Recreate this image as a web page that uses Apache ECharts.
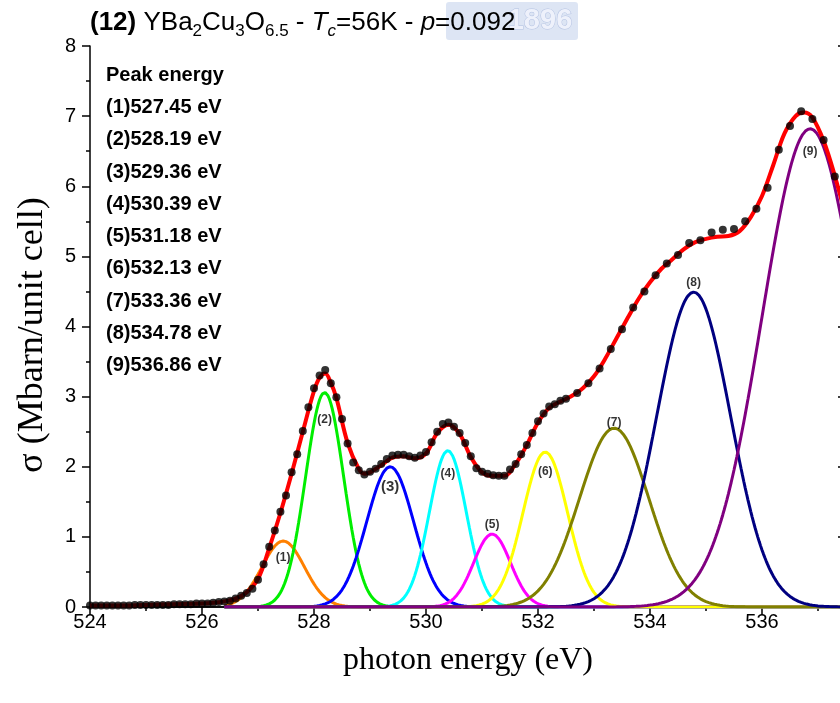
<!DOCTYPE html>
<html>
<head>
<meta charset="utf-8">
<script src="https://cdn.jsdelivr.net/npm/echarts@6/dist/echarts.min.js"></script>
<style>
  html, body { margin: 0; padding: 0; overflow: hidden; background: #fff; }
  #chart { width: 850px; height: 703px; }
</style>
</head>
<body>
<div id="chart"></div>
<script>
// Measured O K-edge spectrum: photon energy (eV) and sigma (Mbarn/unit cell)
const energy = [
  524.0, 524.1, 524.2, 524.3, 524.4, 524.5, 524.6, 524.7, 524.8, 524.9,
  525.0, 525.1, 525.2, 525.3, 525.4, 525.5, 525.6, 525.7, 525.8, 525.9,
  526.0, 526.1, 526.2, 526.3, 526.4, 526.5, 526.6, 526.7, 526.8, 526.9,
  527.0, 527.1, 527.2, 527.3, 527.4, 527.5, 527.6, 527.7, 527.8, 527.9,
  528.0, 528.1, 528.2, 528.3, 528.4, 528.5, 528.6, 528.7, 528.8, 528.9,
  529.0, 529.1, 529.2, 529.3, 529.4, 529.5, 529.6, 529.7, 529.8, 529.9,
  530.0, 530.1, 530.2, 530.3, 530.4, 530.5, 530.6, 530.7, 530.8, 530.9,
  531.0, 531.1, 531.2, 531.3, 531.4, 531.5, 531.6, 531.7, 531.8, 531.9,
  532.0, 532.1, 532.2, 532.3, 532.4, 532.5, 532.7, 532.9, 533.1, 533.3,
  533.5, 533.7, 533.9, 534.1, 534.3, 534.5, 534.7, 534.9, 535.1, 535.3,
  535.5, 535.7, 535.9, 536.1, 536.3, 536.5, 536.7, 536.9, 537.1, 537.3
];
const sigmaMeasured = [
  0.02, 0.02, 0.02, 0.02, 0.02, 0.02, 0.02, 0.02, 0.03, 0.03,
  0.03, 0.03, 0.03, 0.03, 0.03, 0.04, 0.04, 0.04, 0.04, 0.05,
  0.05, 0.05, 0.06, 0.07, 0.08, 0.09, 0.12, 0.16, 0.20, 0.26,
  0.39, 0.61, 0.86, 1.09, 1.36, 1.59, 1.92, 2.18, 2.51, 2.85,
  3.12, 3.30, 3.38, 3.19, 2.99, 2.68, 2.33, 2.06, 1.95, 1.89,
  1.93, 1.97, 2.04, 2.11, 2.16, 2.17, 2.17, 2.15, 2.13, 2.16,
  2.21, 2.35, 2.50, 2.61, 2.63, 2.57, 2.48, 2.34, 2.15, 1.98,
  1.93, 1.90, 1.88, 1.87, 1.87, 1.96, 2.04, 2.18, 2.31, 2.48,
  2.65, 2.76, 2.86, 2.89, 2.94, 2.97, 3.05, 3.19, 3.40, 3.68,
  3.96, 4.27, 4.50, 4.73, 4.90, 5.02, 5.19, 5.23, 5.34, 5.38,
  5.39, 5.50, 5.68, 5.98, 6.52, 6.86, 7.07, 6.96, 6.66, 6.14
];

// Total fit curve
const fitEnergy = [
  524.0, 524.5, 525.0, 525.5, 526.0, 526.2, 526.4, 526.6, 526.8, 527.0,
  527.2, 527.4, 527.6, 527.8, 528.0, 528.1, 528.2, 528.3, 528.4, 528.6,
  528.8, 528.9, 529.0, 529.2, 529.4, 529.6, 529.8, 530.0, 530.2, 530.4,
  530.6, 530.8, 531.0, 531.2, 531.4, 531.6, 531.8, 532.0, 532.2, 532.4,
  532.6, 532.8, 533.0, 533.2, 533.4, 533.6, 533.8, 534.0, 534.2, 534.4,
  534.6, 534.8, 535.0, 535.2, 535.4, 535.6, 535.8, 536.0, 536.2, 536.4,
  536.6, 536.75, 536.9, 537.1, 537.3, 537.5
];
const sigmaFit = [
  0.02, 0.02, 0.03, 0.04, 0.05, 0.06, 0.08, 0.12, 0.21, 0.40,
  0.84, 1.34, 1.90, 2.50, 3.08, 3.27, 3.33, 3.20, 2.98, 2.34,
  1.97, 1.90, 1.92, 2.02, 2.13, 2.15, 2.12, 2.19, 2.48, 2.60,
  2.47, 2.14, 1.92, 1.87, 1.87, 2.04, 2.31, 2.63, 2.84, 2.93,
  3.01, 3.12, 3.29, 3.54, 3.83, 4.12, 4.40, 4.63, 4.82, 4.96,
  5.10, 5.20, 5.25, 5.28, 5.29, 5.36, 5.56, 5.86, 6.30, 6.75,
  7.00, 7.05, 6.98, 6.65, 6.15, 5.55
];

// Gaussian components: peak energy (eV), height, width (eV)
const peakCenter = [527.45, 528.19, 529.36, 530.39, 531.18, 532.13, 533.36, 534.78, 536.86];
const peakHeight = [0.94, 3.06, 2.00, 2.23, 1.04, 2.21, 2.55, 4.49, 6.82];
const peakWidth  = [0.38, 0.34, 0.42, 0.33, 0.33, 0.40, 0.62, 0.66, 0.86];
const peakColor  = ['#FF8000', '#00EE00', '#0000FF', '#00FFFF', '#FF00FF', '#FFFF00', '#808000', '#000080', '#800080'];
const peakTagY   = [0.70, 2.67, 1.72, 1.90, 1.17, 1.93, 2.63, 4.62, 6.50];

const xTicks = [524, 526, 528, 530, 532, 534, 536];

const componentStart = 526.4;
const componentEnd = 537.5;

function componentCurve(i) {
  const pts = [];
  for (let k = 0; ; k++) {
    const x = componentStart + k * 0.025;
    if (x > componentEnd + 1e-9) break;
    const d = x - peakCenter[i];
    pts.push([x, peakHeight[i] * Math.exp(-d * d / (2 * peakWidth[i] * peakWidth[i]))]);
  }
  return pts;
}

const sansFont = 'Arial, "Liberation Sans", Helvetica, sans-serif';
const serifFont = '"Times New Roman", "Liberation Serif", serif';

const series = [];
peakCenter.forEach((c, i) => {
  series.push({
    type: 'line', name: 'peak' + (i + 1),
    data: componentCurve(i), showSymbol: false, smooth: false,
    lineStyle: { color: peakColor[i], width: 3 }, z: 2 + i * 0.01
  });
});
series.push({
  type: 'line', name: 'fit',
  data: fitEnergy.map((x, i) => [x, sigmaFit[i]]),
  showSymbol: false, smooth: 0.35,
  lineStyle: { color: '#FF0000', width: 4 }, z: 3
});
series.push({
  type: 'scatter', name: 'data',
  data: energy.map((x, i) => [x, sigmaMeasured[i]]),
  symbol: 'circle', symbolSize: 8,
  itemStyle: { color: '#000' }, z: 4
});
series.push({
  type: 'scatter', name: 'tags',
  data: peakCenter.map((c, i) => ({
    value: [c, peakTagY[i]],
    label: { fontSize: i === 2 ? 15 : 12 }
  })),
  symbolSize: 0, z: 5, silent: true,
  label: {
    show: true, position: 'inside', color: '#000', fontWeight: 'bold',
    fontFamily: sansFont,
    formatter: p => '(' + (p.dataIndex + 1) + ')'
  }
});

const peakList = ['Peak energy'].concat(
  peakCenter.map((c, i) => '(' + (i + 1) + ')' + c.toFixed(2) + ' eV')
).join('\n');

const axisBlack = { color: '#000', width: 1.5 };

const option = {
  animation: false,
  backgroundColor: '#fff',
  graphic: [
    // pale university seal stamped behind the heading
    {
      type: 'rect', z: -10, silent: true,
      shape: { x: 446, y: 2, width: 132, height: 38, r: 3 },
      style: { fill: '#d2dcf0', opacity: 0.75 }
    },
    {
      type: 'text', z: -9, silent: true,
      style: {
        x: 540, y: 21, text: '1896', textAlign: 'center', textVerticalAlign: 'middle',
        align: 'center', verticalAlign: 'middle',
        font: 'bold 29px Arial, "Liberation Sans", sans-serif',
        fill: '#eef1fb', stroke: '#b4c2e2', lineWidth: 1
      }
    },
    {
      type: 'text', silent: true,
      x: 33, y: 335, rotation: Math.PI / 2,
      style: {
        text: 'σ (Mbarn/unit cell)', textAlign: 'center', textVerticalAlign: 'middle',
        align: 'center', verticalAlign: 'middle',
        font: '36px "Times New Roman", "Liberation Serif", serif', fill: '#000'
      }
    }
  ],
  title: [{
    text: '{b|(12)} YBa{s|2}Cu{s|3}O{s|6.5} - {i|T}{is|c}=56K - {i|p}=0.092',
    left: 90, top: 6, padding: 0,
    textStyle: {
      fontFamily: sansFont, fontSize: 26, fontWeight: 'normal', color: '#000', lineHeight: 34,
      rich: {
        b: { fontFamily: sansFont, fontSize: 26, fontWeight: 'bold', color: '#000', lineHeight: 34 },
        s: { fontFamily: sansFont, fontSize: 17, color: '#000', verticalAlign: 'bottom', lineHeight: 15 },
        i: { fontFamily: sansFont, fontSize: 26, fontStyle: 'italic', color: '#000', lineHeight: 34 },
        is: { fontFamily: sansFont, fontSize: 17, fontStyle: 'italic', color: '#000', verticalAlign: 'bottom', lineHeight: 15 }
      }
    }
  }, {
    text: peakList,
    left: 106, top: 59, padding: 0,
    textStyle: { fontFamily: sansFont, fontSize: 20, fontWeight: 'bold', color: '#000', lineHeight: 32.3 }
  }],
  grid: { left: 90, right: 4, top: 46, bottom: 96, containLabel: false },
  xAxis: [{
    type: 'value', position: 'bottom', min: 524, max: 537.5, interval: 2,
    axisLine: { lineStyle: axisBlack },
    axisTick: { inside: false, length: 8, lineStyle: axisBlack },
    minorTick: { show: true, splitNumber: 2, length: 4, lineStyle: axisBlack },
    splitLine: { show: false },
    axisLabel: {
      color: '#000', fontSize: 20, fontFamily: sansFont, margin: 5, showMaxLabel: false,
      formatter: v => (xTicks.indexOf(v) >= 0 ? String(v) : '')
    },
    name: 'photon energy (eV)', nameLocation: 'middle', nameGap: 38,
    nameTextStyle: { fontFamily: serifFont, fontSize: 32, color: '#000' }
  }, {
    type: 'value', position: 'top', min: 524, max: 537.5, interval: 2,
    axisLine: { lineStyle: axisBlack },
    axisTick: { inside: true, length: 8, lineStyle: axisBlack },
    minorTick: { show: true, splitNumber: 2, length: 4, lineStyle: axisBlack },
    splitLine: { show: false }, axisLabel: { show: false }
  }],
  yAxis: [{
    type: 'value', position: 'left', min: 0, max: 8, interval: 1,
    axisLine: { show: true, lineStyle: axisBlack },
    axisTick: { show: true, inside: false, length: 8, lineStyle: axisBlack },
    minorTick: { show: true, splitNumber: 2, length: 4, lineStyle: axisBlack },
    splitLine: { show: false },
    axisLabel: { color: '#000', fontSize: 20, fontFamily: sansFont, margin: 14 }
  }, {
    type: 'value', position: 'right', min: 0, max: 8, interval: 1,
    axisLine: { show: true, lineStyle: axisBlack },
    axisTick: { show: true, inside: true, length: 8, lineStyle: axisBlack },
    minorTick: { show: true, splitNumber: 2, length: 4, lineStyle: axisBlack },
    splitLine: { show: false }, axisLabel: { show: false }
  }],
  series: series
};

const chart = echarts.init(document.getElementById('chart'), null, { renderer: 'canvas' });
chart.setOption(option);
</script>
</body>
</html>
